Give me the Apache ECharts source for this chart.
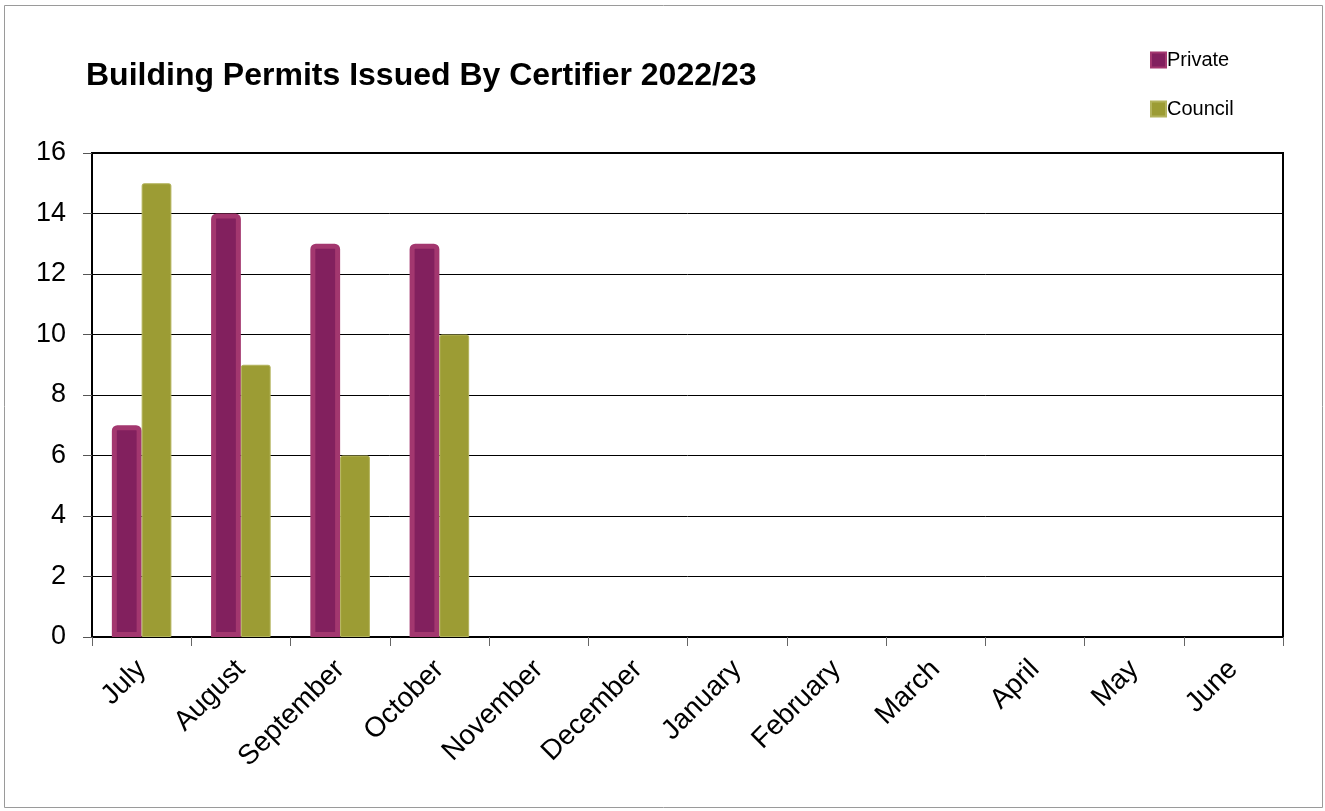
<!DOCTYPE html>
<html>
<head>
<meta charset="utf-8">
<script src="https://cdn.jsdelivr.net/npm/echarts@6/dist/echarts.min.js"></script>
<style>
html,body{margin:0;padding:0;background:#fff;}
#chart{width:1325px;height:811px;}
</style>
</head>
<body>
<div id="chart"></div>
<script>
const months = ['July','August','September','October','November','December','January','February','March','April','May','June'];
const privateVals = [7, 14, 13, 13, null, null, null, null, null, null, null, null];
const councilVals = [15, 9, 6, 10, null, null, null, null, null, null, null, null];
const yTicks = { min: 0, max: 16, interval: 2 };

const chart = echarts.init(document.getElementById('chart'), null, { renderer: 'canvas' });
const font = 'Arial, "Liberation Sans", sans-serif';
chart.setOption({
  animation: false,
  backgroundColor: '#fff',
  graphic: [{
    type: 'rect', silent: true, z: -10,
    shape: { x: 4.5, y: 5.5, width: 1318, height: 802 },
    style: { fill: 'none', stroke: '#9a9a9a', lineWidth: 1 }
  }],
  title: {
    text: 'Building Permits Issued By Certifier 2022/23',
    left: 81, top: 55,
    textStyle: { fontFamily: font, fontSize: 32, fontWeight: 'bold', color: '#000' }
  },
  legend: {
    orient: 'vertical',
    left: 1150, top: 50, padding: 0,
    itemWidth: 15, itemHeight: 15, itemGap: 29,
    icon: 'rect',
    textStyle: { fontFamily: font, fontSize: 20, color: '#000', padding: [0, 0, 0, -4] },
    data: ['Private', 'Council']
  },
  grid: {
    left: 92, right: 42, top: 153, bottom: 174,
    show: true, borderColor: '#000', borderWidth: 2, containLabel: false
  },
  xAxis: {
    type: 'category',
    data: months,
    axisLine: { show: true, lineStyle: { color: '#000', width: 2 } },
    axisTick: { show: true, length: 9, lineStyle: { color: '#666', width: 1 } },
    axisLabel: { rotate: 45, margin: 28, fontFamily: font, fontSize: 28, color: '#000', interval: 0 }
  },
  yAxis: {
    type: 'value',
    min: yTicks.min, max: yTicks.max, interval: yTicks.interval,
    axisLine: { show: true, lineStyle: { color: '#000', width: 2 } },
    axisTick: { show: true, length: 9, lineStyle: { color: '#555', width: 1 } },
    axisLabel: { margin: 26, fontFamily: font, fontSize: 27, color: '#000' },
    splitLine: { show: true, lineStyle: { color: '#000', width: 1 } }
  },
  series: [
    {
      name: 'Private', type: 'bar', data: privateVals,
      barGap: '0%', barCategoryGap: '40%',
      itemStyle: { color: '#82205E', borderColor: '#A3376F', borderWidth: 5, borderRadius: [3, 3, 0, 0] }
    },
    {
      name: 'Council', type: 'bar', data: councilVals,
      barGap: '0%', barCategoryGap: '40%',
      itemStyle: { color: '#9C9C34', borderColor: '#B3B35C', borderWidth: 1, borderRadius: [2, 2, 0, 0] }
    }
  ]
});
</script>
</body>
</html>
